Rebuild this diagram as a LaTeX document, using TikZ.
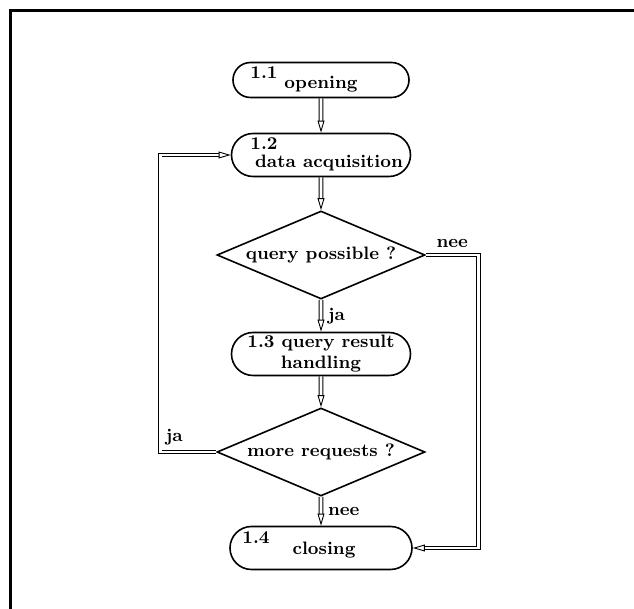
\documentclass[tikz,border=0pt]{standalone}
\usetikzlibrary{shapes.geometric,shapes.misc,arrows.meta}
\begin{document}
\begin{tikzpicture}[x=0.5pt, y=-0.5pt, >={Triangle[open,length=6pt,width=3.4pt]}, node distance=50pt, font=\fontsize{9}{10.5}\selectfont\bfseries]
    \tikzstyle{box}=[rounded rectangle,draw,line width=0.8pt,align=center,minimum width=91.5pt,minimum height=21.5pt,inner sep=1pt]
    \tikzstyle{test}=[diamond,draw,line width=0.8pt,aspect=2.4,minimum width=104pt,minimum height=44pt,inner sep=0pt]
    \tikzstyle{flow}=[double,double distance=1.4pt,line width=0.45pt,->]
    \useasboundingbox (0,0) rectangle (634,609);
    \draw[line width=1.5pt] (634,11) -- (11,11) -- (11,609);
    \node[box,minimum width=90pt,minimum height=17.5pt,text height=9pt,text depth=0pt,label={[xshift=-28.5pt,yshift=3.5pt]center:1.1}] (opening) at (321,80) {opening};
    \node[box,below of=opening,node distance=37.5pt,text height=13pt,text depth=0pt,label={[xshift=-28.5pt,yshift=5.5pt]center:1.2}] (data) {\hspace*{8pt}data acquisition};
    \node[test,below of=data] (query) {query possible ?};
    \node[box,below of=query,node distance=49.5pt] (result) {1.3 query result\\handling};
    \node[test,below of=result,node distance=49pt] (more) {more requests ?};
    \node[box,below of=more,node distance=48pt,minimum width=93pt,text height=7pt,text depth=0pt,label={[xshift=-32.5pt,yshift=5pt]center:1.4}] (closing) {\hspace*{3pt}closing};
    \draw[flow] (opening) -- (data);
    \draw[flow] (data) -- (query);
    \draw[flow] (query) -- node[right] (jaA) {ja} (result);
    \draw[flow] (result) -- (more);
    \draw[flow] (more) -- node[right] (neeB) {nee} (closing);
    \draw[flow] (query.east) -- ++(53,0) node[midway,above] (neeA) {nee} |- (closing.east);
    \draw[flow] (more.west) -- ++(-56,0) node[pos=0.75,above] (jaB) {ja} |- (data.west);
\end{tikzpicture}
\end{document}
